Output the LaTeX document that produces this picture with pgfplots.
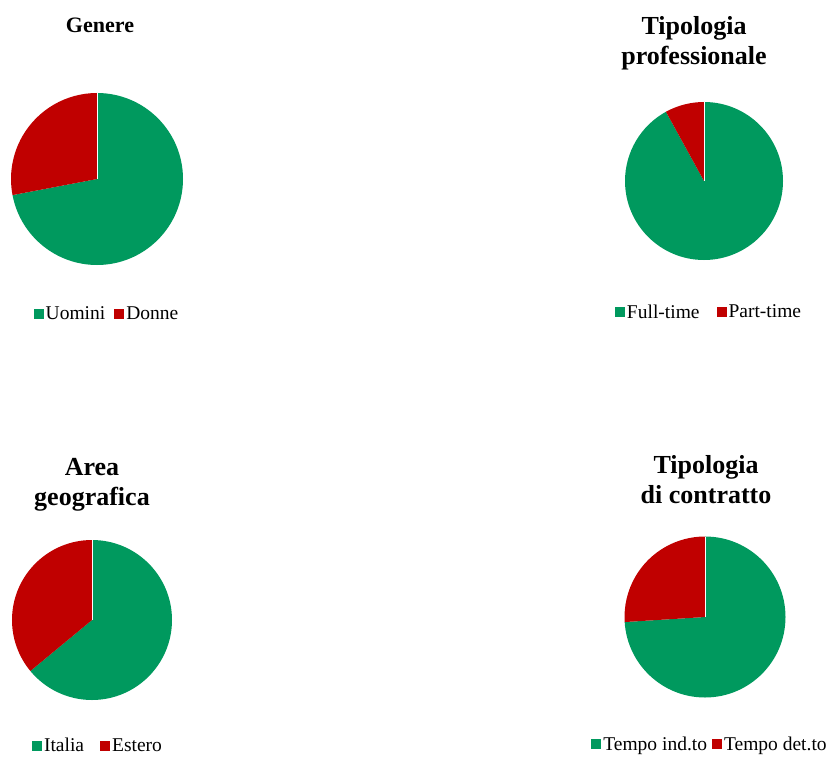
\documentclass[border=0pt]{standalone}
\usepackage{pgfplots}
\pgfplotsset{compat=1.18}
\usepackage{fontspec}
\setmainfont{Liberation Serif}

\definecolor{pgreen}{RGB}{0,153,94}
\definecolor{pred}{RGB}{192,0,0}

\pgfplotsset{
  legend image code/.code={\fill[#1, draw=none] (0pt,-5pt) rectangle (10pt,5pt);},
  pie/.style={
    scale only axis, axis lines=none, clip=false, anchor=center,
    xmin=-1, xmax=1, ymin=-1, ymax=1,
    legend columns=2,
    legend style={draw=none, fill=none, anchor=center,
      font=\fontsize{19.5}{22}\selectfont,
      /tikz/every even column/.append style={column sep=7pt}},
  },
}

% #1 radius (pt), #2 first share (%), #3 second share (%)
\newcommand\pieslices[3]{%
  \fill[pgreen] (axis cs:0,0) -- (axis cs:0,1)
    arc[start angle=90, end angle={90-3.6*#2}, radius=#1pt] -- cycle;
  \fill[pred] (axis cs:0,0) -- (axis cs:0,1)
    arc[start angle=90, end angle={90+3.6*#3}, radius=#1pt] -- cycle;
  \draw[white, line width=0.4pt] (axis cs:0,0) -- (axis cs:0,1);
}

\begin{document}
\begin{tikzpicture}
\path[use as bounding box] (0,0) rectangle (837pt,756pt);

% Genere
\begin{axis}[pie, at={(97pt,577pt)}, width=172pt, height=172pt,
  legend style={at={(axis description cs:0.558,-0.285)}}]
  \addlegendimage{fill=pgreen}
  \addlegendimage{fill=pred}
  \pieslices{86}{72}{28}
  \legend{Uomini, Donne}
\end{axis}

% Tipologia professionale
\begin{axis}[pie, at={(704pt,575pt)}, width=158pt, height=158pt,
  legend style={at={(axis description cs:0.532,-0.33)},
    /tikz/every even column/.append style={column sep=15pt}}]
  \addlegendimage{fill=pgreen}
  \addlegendimage{fill=pred}
  \pieslices{79}{92}{8}
  \legend{Full-time, Part-time}
\end{axis}

% Area geografica
\begin{axis}[pie, at={(92pt,136pt)}, width=160pt, height=160pt,
  legend style={at={(axis description cs:0.5375,-0.285)},
    /tikz/every even column/.append style={column sep=14pt}}]
  \addlegendimage{fill=pgreen}
  \addlegendimage{fill=pred}
  \pieslices{80}{64}{36}
  \legend{Italia, Estero}
\end{axis}

% Tipologia di contratto
\begin{axis}[pie, at={(705pt,139pt)}, width=161pt, height=161pt,
  legend style={at={(axis description cs:0.531,-0.29)},
    /tikz/every even column/.append style={column sep=3pt}}]
  \addlegendimage{fill=pgreen}
  \addlegendimage{fill=pred}
  \pieslices{80.5}{74}{26}
  \legend{Tempo ind.to, Tempo det.to}
\end{axis}

\node[font=\bfseries\fontsize{22}{26}\selectfont] at (100pt,731pt) {Genere};
\node[font=\bfseries\fontsize{26}{30}\selectfont, align=center] at (694pt,713pt) {Tipologia\\professionale};
\node[font=\bfseries\fontsize{26}{30}\selectfont, align=center] at (92pt,271pt) {Area\\geografica};
\node[font=\bfseries\fontsize{26}{30}\selectfont, align=center] at (706pt,276pt) {Tipologia\\di contratto};
\end{tikzpicture}
\end{document}
